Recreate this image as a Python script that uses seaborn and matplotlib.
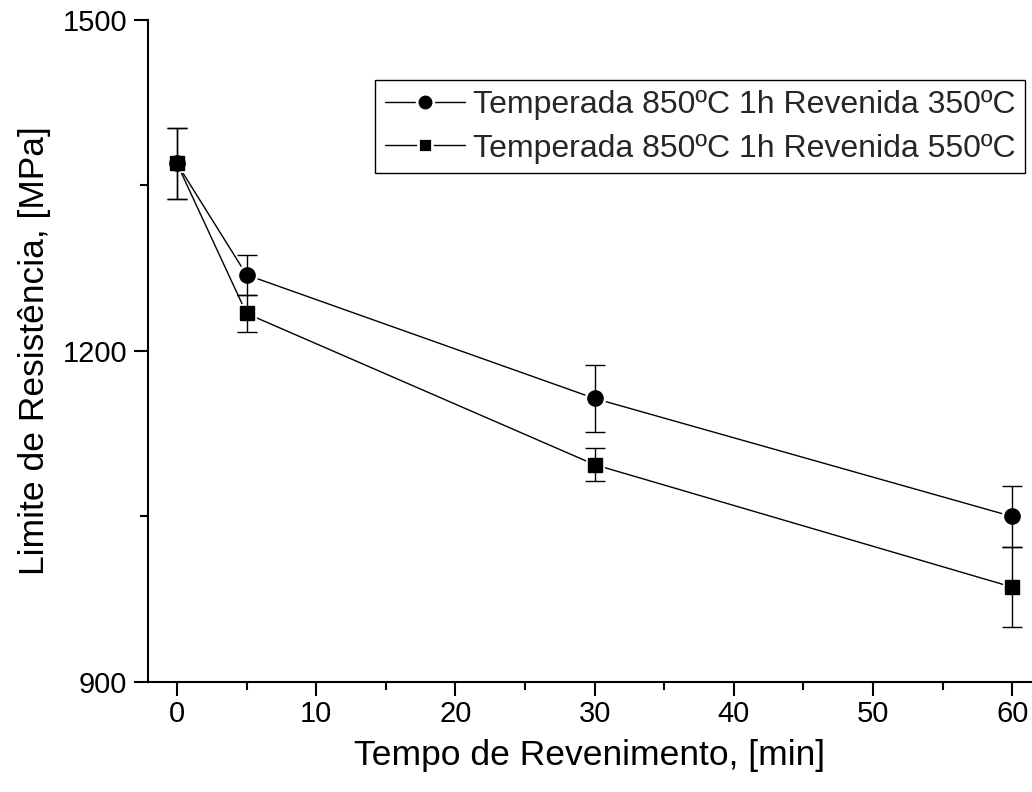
import matplotlib
matplotlib.use("Agg")
import matplotlib.pyplot as plt
import seaborn as sns
import pandas as pd
from matplotlib.lines import Line2D

tempo = [0, 5, 30, 60]
serie_350 = [1370, 1269, 1157, 1050]
erro_350 = [32, 18, 30, 28]
serie_550 = [1370, 1234, 1097, 986]
erro_550 = [32, 17, 15, 36]
labels = ["Temperada 850ºC 1h Revenida 350ºC", "Temperada 850ºC 1h Revenida 550ºC"]
markers = ["o", "s"]

df = pd.DataFrame({
    "tempo": tempo * 2,
    "valor": serie_350 + serie_550,
    "erro": erro_350 + erro_550,
    "serie": [labels[0]] * 4 + [labels[1]] * 4,
})

sns.set_theme(style="ticks")
plt.rcParams["font.family"] = ["Liberation Sans", "DejaVu Sans"]

fig = plt.figure(figsize=(10.32, 7.92), dpi=100)
ax = fig.add_axes([148 / 1032, 1 - 682 / 792, (1032 - 148) / 1032, (682 - 20) / 792])

sizes = {labels[0]: 12, labels[1]: 10.5}
for lab, mk in zip(labels, markers):
    sub = df[df["serie"] == lab]
    sns.lineplot(data=sub, x="tempo", y="valor", ax=ax, color="black", lw=1.0,
                 marker=mk, markersize=sizes[lab], markerfacecolor="black",
                 markeredgecolor="white", markeredgewidth=3.5, legend=False,
                 zorder=2)
    ax.errorbar(sub["tempo"], sub["valor"], yerr=sub["erro"], fmt="none",
                ecolor="black", elinewidth=1.0, capsize=7, capthick=1.0, zorder=3)
    ax.plot(sub["tempo"], sub["valor"], ls="none", marker=mk,
            markersize=sizes[lab] - 1, color="black", zorder=4)

ax.set_xlim(-2.08, 61.42)
ax.set_ylim(900, 1500)
ax.set_xticks([0, 10, 20, 30, 40, 50, 60])
ax.set_xticks([5, 15, 25, 35, 45, 55], minor=True)
ax.set_yticks([900, 1200, 1500])
ax.set_yticks([1050, 1350], minor=True)
ax.tick_params(axis="both", which="major", direction="out", length=10, width=1.5,
               labelsize=21, color="black", labelcolor="black")
ax.tick_params(axis="both", which="minor", direction="out", length=5.5, width=1.5,
               color="black")
ax.tick_params(axis="x", pad=3)
ax.tick_params(axis="y", pad=5)

sns.despine(ax=ax)
for s in ["left", "bottom"]:
    ax.spines[s].set_linewidth(1.5)
    ax.spines[s].set_color("black")

ax.set_xlabel("Tempo de Revenimento, [min]", fontsize=25.5, labelpad=8, color="black")
ax.set_ylabel("Limite de Resistência, [MPa]", fontsize=25.5, labelpad=8, color="black")

handles = [
    Line2D([], [], color="black", lw=1.0, marker="o", markersize=12,
           markerfacecolor="black", markeredgecolor="white", markeredgewidth=2),
    Line2D([], [], color="black", lw=1.0, marker="s", markersize=10.5,
           markerfacecolor="black", markeredgecolor="white", markeredgewidth=2),
]
leg = ax.legend(handles, labels, loc="upper right", bbox_to_anchor=(0.992, 0.909),
                fontsize=23, frameon=True, fancybox=False, edgecolor="black",
                framealpha=1, handlelength=2.5, handletextpad=0.25,
                borderpad=0.3, labelspacing=0.42, borderaxespad=0)
leg.get_frame().set_linewidth(1.0)

fig.savefig("out.png", dpi=100)
